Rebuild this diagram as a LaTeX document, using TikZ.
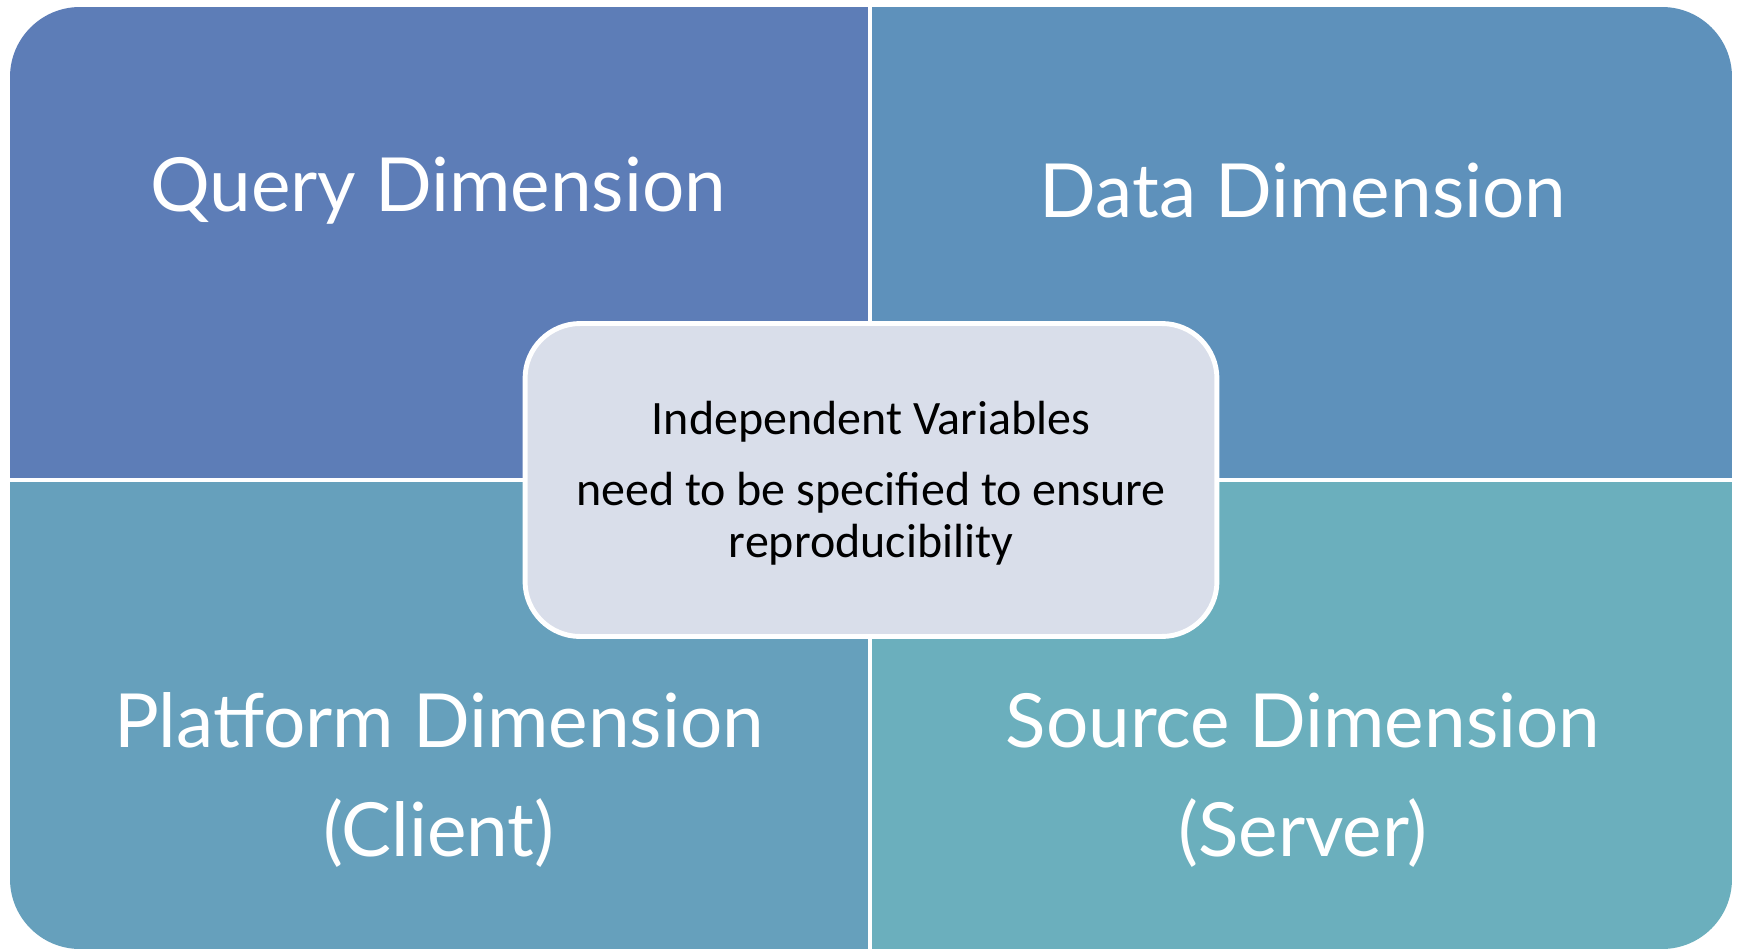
\documentclass[tikz,border=0pt]{standalone}
\usepackage{fontspec}
\setmainfont{Carlito}
\newfontfamily\dimfont{Lato}
\usetikzlibrary{positioning}

\definecolor{querycol}{HTML}{5D7DB7}
\definecolor{datacol}{HTML}{5E91BB}
\definecolor{platformcol}{HTML}{66A0BC}
\definecolor{sourcecol}{HTML}{6BAFBD}
\definecolor{indepcol}{HTML}{D9DEEA}

\begin{document}
\begin{tikzpicture}[
    x=0.02cm, y=-0.02cm,
    dimlabel/.style={text=white, align=center,
        font=\dimfont\fontsize{42.5}{62}\selectfont},
    indepbox/.style={draw=white, line width=2.8pt, fill=indepcol,
        rounded corners=1.1cm, minimum width=13.84cm, minimum height=6.26cm,
        align=center, font=\fontsize{27.3}{29.6}\selectfont}]

    \useasboundingbox (0,0) rectangle (1739,950);

    % quadrants
    \begin{scope}
        \clip[rounded corners=1.4cm] (10,7) rectangle (1732,949);
        \fill[querycol] (10,7) rectangle (870,480);
        \fill[datacol] (870,7) rectangle (1732,480);
        \fill[platformcol] (10,480) rectangle (870,949);
        \fill[sourcecol] (870,480) rectangle (1732,949);
    \end{scope}

    % gaps
    \draw[white, line width=2.8pt] (870,0) -- (870,950);
    \draw[white, line width=2.8pt] (0,480) -- (1739,480);

    % labels
    \node[dimlabel] (query) at (438,191) {Query Dimension};
    \node[dimlabel] (data) at (1303,191) {Data Dimension};
    \node[dimlabel] (platform) at (439,780) {Platform Dimension\\(Client)};
    \node[dimlabel] (source) at (1303,780) {Source Dimension\\(Server)};

    % centre
    \node[indepbox] (indep) at (871,480) {};
    \node[font=\fontsize{27.3}{29.6}\selectfont, align=center] (indeptext) at (871,483)
        {Independent Variables\\[11pt] need to be specified to ensure\\reproducibility};

\end{tikzpicture}
\end{document}
